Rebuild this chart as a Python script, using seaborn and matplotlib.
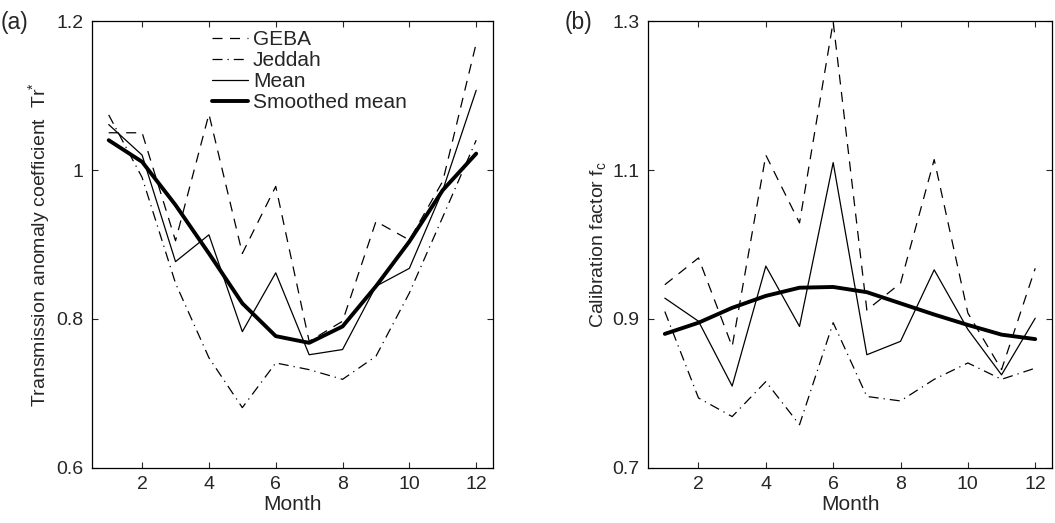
import numpy as np
import pandas as pd
import seaborn as sns
import matplotlib
matplotlib.use("Agg")
import matplotlib.pyplot as plt

months = list(range(1, 13))

# panel (a): transmission anomaly coefficient
tr_geba = [1.05, 1.05, 0.905, 1.075, 0.888, 0.978, 0.770, 0.797, 0.931, 0.906, 0.985, 1.170]
tr_jeddah = [1.074, 0.990, 0.848, 0.748, 0.681, 0.741, 0.732, 0.719, 0.750, 0.835, 0.937, 1.040]
tr_mean = [1.061, 1.020, 0.877, 0.913, 0.783, 0.862, 0.752, 0.759, 0.844, 0.868, 0.973, 1.107]
tr_smooth = [1.040, 1.011, 0.953, 0.888, 0.821, 0.777, 0.768, 0.790, 0.844, 0.904, 0.973, 1.022]

# panel (b): calibration factor
fc_geba = [0.946, 0.982, 0.863, 1.120, 1.029, 1.299, 0.912, 0.948, 1.114, 0.908, 0.832, 0.968]
fc_jeddah = [0.910, 0.794, 0.769, 0.816, 0.758, 0.895, 0.796, 0.790, 0.819, 0.841, 0.819, 0.834]
fc_mean = [0.928, 0.897, 0.810, 0.971, 0.890, 1.110, 0.852, 0.870, 0.966, 0.886, 0.825, 0.901]
fc_smooth = [0.880, 0.895, 0.915, 0.931, 0.942, 0.943, 0.936, 0.921, 0.906, 0.892, 0.879, 0.873]

series_names = ["GEBA", "Jeddah", "Mean", "Smoothed mean"]
styles = {
    "GEBA": dict(dashes=(8, 6), lw=0.9),
    "Jeddah": dict(dashes=(8, 4, 1, 4), lw=0.9),
    "Mean": dict(dashes=None, lw=0.9),
    "Smoothed mean": dict(dashes=None, lw=2.8),
}

sns.set_style("ticks")
plt.rcParams["font.family"] = ["Liberation Sans", "DejaVu Sans"]
plt.rcParams["mathtext.fontset"] = "custom"
plt.rcParams["mathtext.rm"] = "Liberation Sans"
plt.rcParams["mathtext.it"] = "Liberation Sans"


def draw_panel(ax, values, yticks, ylabel, legend=False):
    for name, vals in zip(series_names, values):
        st = styles[name]
        sns.lineplot(x=months, y=vals, ax=ax, color="black",
                     linewidth=st["lw"], label=name if legend else None)
        if st["dashes"] is not None:
            ax.lines[-1].set_dashes(st["dashes"])
    ax.set_xlim(0.5, 12.5)
    ax.set_ylim(yticks[0], yticks[-1])
    ax.set_xticks([2, 4, 6, 8, 10, 12])
    ax.set_yticks(yticks)
    ax.set_yticklabels([f"{t:g}" for t in yticks])
    ax.set_xlabel("Month", fontsize=15, labelpad=1)
    ax.set_ylabel(ylabel, fontsize=14, labelpad=3)
    ax.tick_params(direction="in", top=True, right=True, length=4, width=0.8,
                   labelsize=14, pad=6)
    for s in ax.spines.values():
        s.set_linewidth(0.9)
        s.set_color("black")
    if legend:
        ax.legend(loc="upper left", bbox_to_anchor=(0.30, 0.98), frameon=False,
                  fontsize=15, handlelength=1.7, handletextpad=0.25,
                  labelspacing=0.1, borderaxespad=0, borderpad=0)
    elif ax.get_legend() is not None:
        ax.get_legend().remove()


fig = plt.figure(figsize=(10.55, 5.23), dpi=100)
ax_a = fig.add_axes([0.0872, 0.1052, 0.380, 0.8546])
ax_b = fig.add_axes([0.6142, 0.1052, 0.383, 0.8546])

draw_panel(ax_a, [tr_geba, tr_jeddah, tr_mean, tr_smooth], [0.6, 0.8, 1.0, 1.2],
           r"Transmission anomaly coefficient  Tr$^{*}$", legend=True)
draw_panel(ax_b, [fc_geba, fc_jeddah, fc_mean, fc_smooth], [0.7, 0.9, 1.1, 1.3],
           r"Calibration factor f$_{\mathrm{c}}$")

fig.text(0.001, 0.957, "(a)", fontsize=16.5, va="center", ha="left")
fig.text(0.535, 0.957, "(b)", fontsize=16.5, va="center", ha="left")

fig.savefig("out.png", dpi=100)
